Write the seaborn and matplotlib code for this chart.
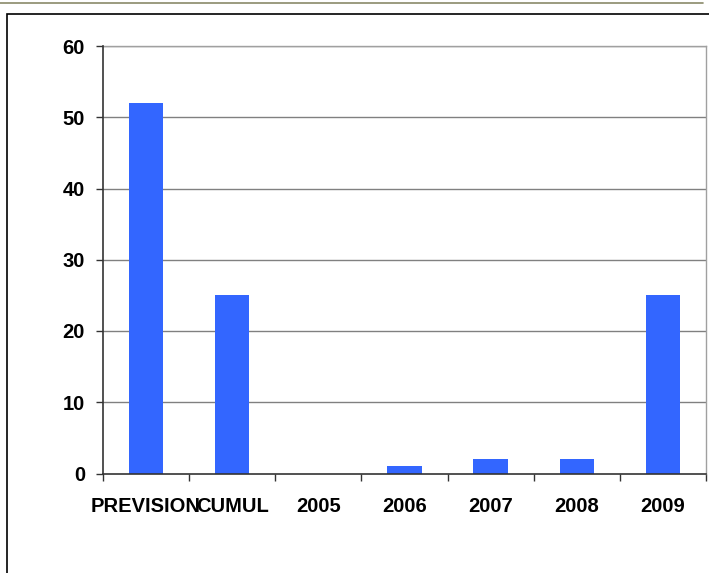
import matplotlib
matplotlib.use("Agg")
import matplotlib.pyplot as plt
from matplotlib.lines import Line2D
from matplotlib.patches import Rectangle
import seaborn as sns
import pandas as pd

categories = ["PREVISION", "CUMUL", "2005", "2006", "2007", "2008", "2009"]
values = [52, 25, 0, 1, 2, 2, 25]
y_ticks = [0, 10, 20, 30, 40, 50, 60]

sns.set_theme(style="white")
plt.rcParams["font.family"] = ["Liberation Sans", "DejaVu Sans"]

df = pd.DataFrame({"cat": categories, "val": values})

W, H = 709, 573
fig = plt.figure(figsize=(W / 100, H / 100), dpi=100)
ax = fig.add_axes([103 / W, 1 - 473.5 / H, (706 - 103) / W, (473.5 - 46) / H])

sns.barplot(data=df, x="cat", y="val", color="#3366FF", saturation=1,
            width=0.4, linewidth=0, ax=ax, zorder=3)

ax.set_xlim(-0.5, len(categories) - 0.5)
ax.set_ylim(0, 60)
ax.set_yticks(y_ticks)
ax.set_xlabel("")
ax.set_ylabel("")

for y in y_ticks[1:]:
    ax.axhline(y, color="#808080", lw=1.0, zorder=1)

for side in ["top", "right"]:
    ax.spines[side].set_visible(True)
    ax.spines[side].set_color("#A0A0A0")
    ax.spines[side].set_linewidth(1.0)
for side in ["left", "bottom"]:
    ax.spines[side].set_color("#333333")
    ax.spines[side].set_linewidth(1.2)
    ax.spines[side].set_zorder(4)

ax.tick_params(axis="y", which="major", direction="out", length=5, width=1,
               color="#333333", pad=8, labelsize=14.5, left=True)
ax.tick_params(axis="x", which="major", length=0, pad=17, labelsize=14.5)
ax.set_xticks([i - 0.5 for i in range(len(categories) + 1)], minor=True)
ax.tick_params(axis="x", which="minor", direction="out", length=5, width=1,
               color="#333333", bottom=True)
for lab in ax.get_xticklabels() + ax.get_yticklabels():
    lab.set_fontweight("bold")
    lab.set_color("black")

# page frame lines around the chart
fig.add_artist(Line2D([0, 703 / W], [1 - 2.5 / H, 1 - 2.5 / H],
                      transform=fig.transFigure, color="#8A8A6A", lw=1.2))
fig.add_artist(Rectangle((7.5 / W, -0.05), 1.1, 1 - 14 / H + 0.05,
                         transform=fig.transFigure, fill=False,
                         edgecolor="black", lw=1.2))

fig.savefig("out.png", dpi=100)
